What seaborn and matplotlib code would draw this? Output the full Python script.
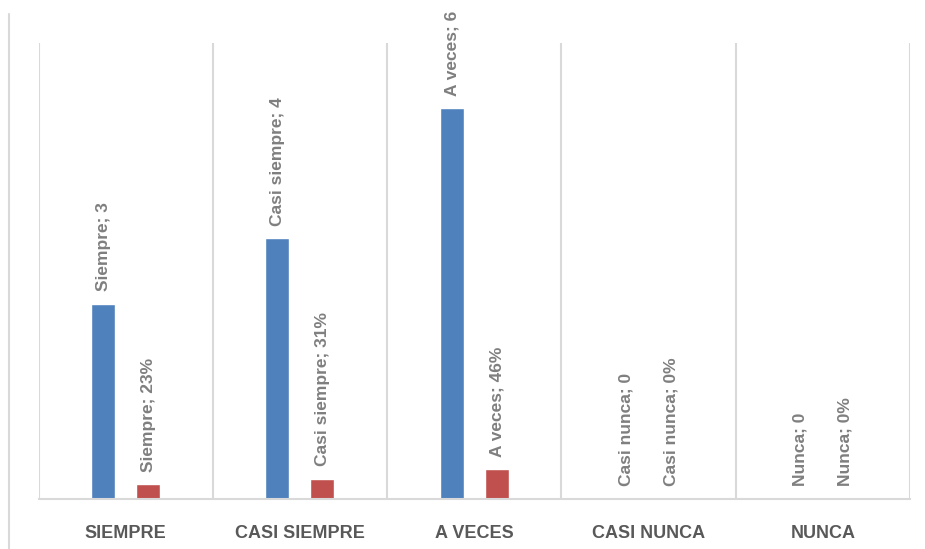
import matplotlib
matplotlib.use("Agg")
import matplotlib.pyplot as plt
import seaborn as sns
import pandas as pd
from matplotlib.lines import Line2D

categorias = ["Siempre", "Casi siempre", "A veces", "Casi nunca", "Nunca"]
etiquetas_eje = ["SIEMPRE", "CASI SIEMPRE", "A VECES", "CASI NUNCA", "NUNCA"]
frecuencia = [3, 4, 6, 0, 0]
porcentaje = [0.23, 0.31, 0.46, 0.0, 0.0]

df = pd.DataFrame({
    "categoria": categorias * 2,
    "valor": frecuencia + porcentaje,
    "serie": ["Frecuencia"] * 5 + ["Porcentaje"] * 5,
})

sns.set_theme(style="white")
plt.rcParams["font.family"] = ["Liberation Sans", "DejaVu Sans"]

fig = plt.figure(figsize=(9.25, 5.49), dpi=100)
ax = fig.add_axes([38.5 / 925, 50 / 549, (910 - 38.5) / 925, (499 - 43) / 549])

sns.barplot(data=df, x="categoria", y="valor", hue="serie", order=categorias,
            palette=["#4f81bd", "#c0504d"], width=0.516, gap=0.465,
            legend=False, ax=ax, saturation=1, errorbar=None)

ax.set_ylim(0, 7)
ax.set_xlim(-0.5, len(categorias) - 0.5)
ax.set_xlabel("")
ax.set_ylabel("")
ax.set_yticks([])
for s in ["top", "left", "right"]:
    ax.spines[s].set_visible(False)
ax.spines["bottom"].set_color("#d9d9d9")
ax.spines["bottom"].set_linewidth(1.5)

for i in range(len(categorias) + 1):
    ax.axvline(i - 0.5, color="#d9d9d9", lw=1.5, zorder=0)

ax.set_xticks(range(len(categorias)))
ax.set_xticklabels(etiquetas_eje, fontsize=13, fontweight="bold", color="#595959")
ax.tick_params(axis="x", length=0, pad=19)

cont_f, cont_p = ax.containers[0], ax.containers[1]
ax.bar_label(cont_f, labels=[f"{c}; {v}" for c, v in zip(categorias, frecuencia)],
             rotation=90, padding=9, fontsize=12.5, fontweight="bold",
             color="#7f7f7f", clip_on=False)
ax.bar_label(cont_p, labels=[f"{c}; {round(v * 100)}%" for c, v in zip(categorias, porcentaje)],
             rotation=90, padding=9, fontsize=12.5, fontweight="bold",
             color="#7f7f7f", clip_on=False)

fig.add_artist(Line2D([9 / 925, 9 / 925], [0, 1 - 14 / 549], transform=fig.transFigure,
                      color="#d9d9d9", lw=1.5))

fig.savefig("out.png", dpi=100, facecolor="white")
